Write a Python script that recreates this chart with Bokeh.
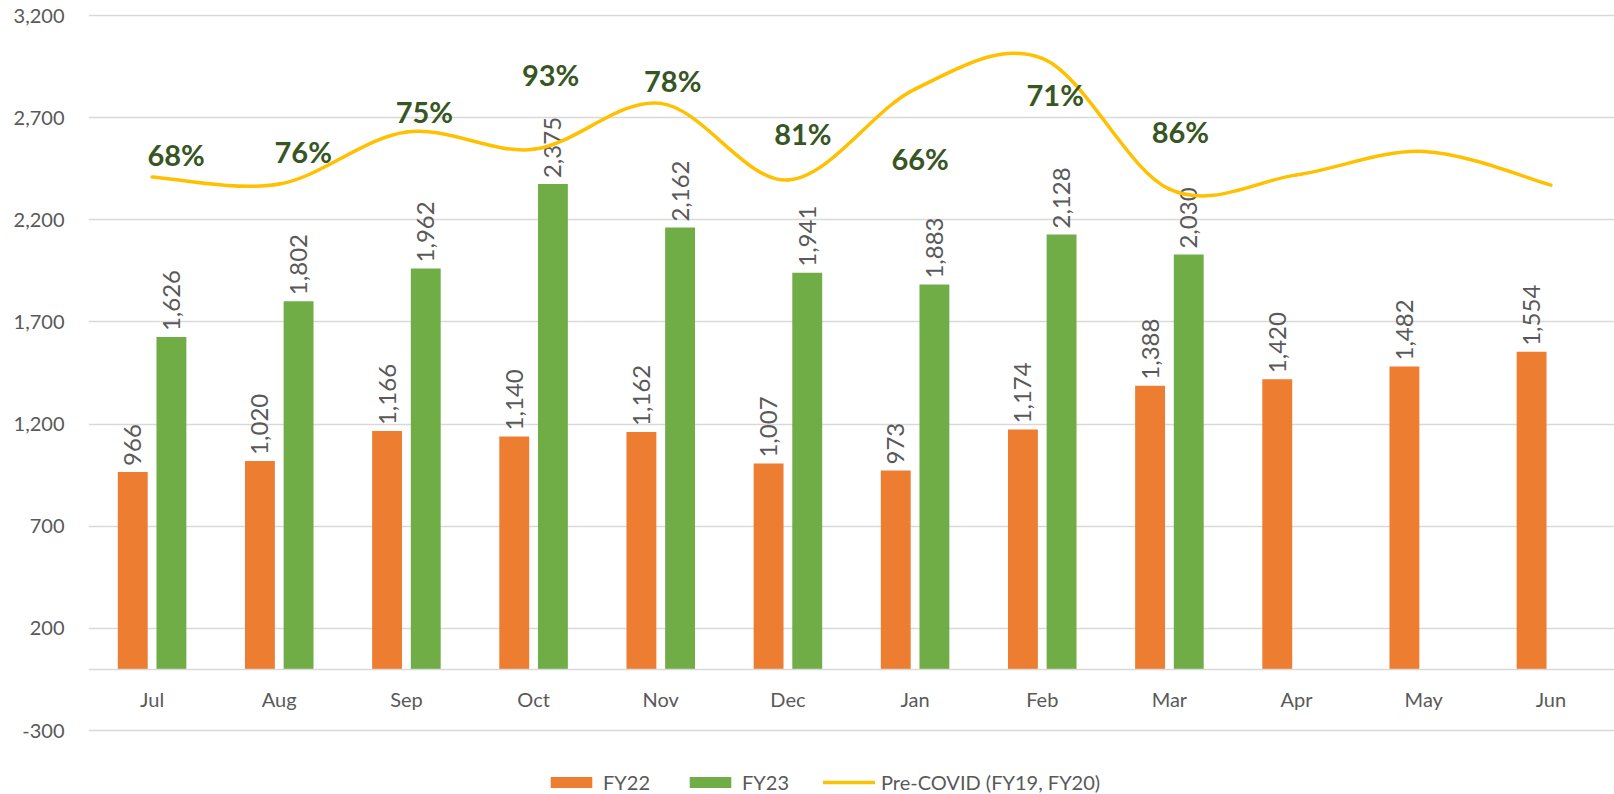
import math
from bokeh.plotting import figure
from bokeh.models import (ColumnDataSource, Range1d, FixedTicker, NumeralTickFormatter,
                          Legend, LegendItem)
from bokeh.core.properties import value
from bokeh.embed import file_html
from bokeh.resources import INLINE

# ---------------- data ----------------
months = ["Jul", "Aug", "Sep", "Oct", "Nov", "Dec", "Jan", "Feb", "Mar", "Apr", "May", "Jun"]
fy22 = [966, 1020, 1166, 1140, 1162, 1007, 973, 1174, 1388, 1420, 1482, 1554]
fy23 = [1626, 1802, 1962, 2375, 2162, 1941, 1883, 2128, 2030]
pre_covid = [2410, 2375, 2630, 2545, 2770, 2395, 2840, 2990, 2350, 2420, 2535, 2370]
pct_labels = ["68%", "76%", "75%", "93%", "78%", "81%", "66%", "71%", "86%"]
y_ticks = [-300, 200, 700, 1200, 1700, 2200, 2700, 3200]

# label placement (screen px relative to the line point; positive dy = up)
pct_dx = [24, 24, 18, 17, 12, 15, 5, 13, 11]
pct_dy = [22, 33, 20, 75, 23, 46, -69, -36, 58]

FONT = "Lato"
TXT = "#595959"
ORANGE = "#ED7D31"
GREEN = "#70AD47"
GOLD = "#FFC000"
GRID = "#D9D9D9"
DKGREEN = "#375623"

# the frame reaches the bottom edge so the legend can sit inside it, below the -300 line
p = figure(width=1614, height=794, output_backend="svg", toolbar_location=None,
           x_range=Range1d(0, len(months)), y_range=Range1d(-613, 3210),
           min_border_left=88, min_border_right=0, min_border_top=13, min_border_bottom=0)
p.outline_line_color = None
p.background_fill_color = "white"
p.border_fill_color = "white"

xc = [i + 0.5 for i in range(len(months))]
off = 0.152
bw = 0.235

s22 = ColumnDataSource(dict(x=[c - off for c in xc], top=fy22, lab=[f"{v:,}" for v in fy22]))
s23 = ColumnDataSource(dict(x=[c + off for c in xc[:len(fy23)]], top=fy23,
                            lab=[f"{v:,}" for v in fy23]))

r22 = p.vbar(x="x", top="top", bottom=0, width=bw, source=s22, fill_color=ORANGE, line_color=None)
r23 = p.vbar(x="x", top="top", bottom=0, width=bw, source=s23, fill_color=GREEN, line_color=None)

# value labels, rotated
for src in (s22, s23):
    p.text(x="x", y="top", text="lab", source=src, angle=math.pi / 2,
           text_align="left", text_baseline="middle", x_offset=0, y_offset=-6,
           text_font=value(FONT), text_font_size="24px", text_color=TXT)

# smoothed line (Catmull-Rom style bezier segments through the data points)
n = len(pre_covid)
P = list(zip(xc, pre_covid))
bx0, by0, bx1, by1, c0x, c0y, c1x, c1y = [], [], [], [], [], [], [], []
for i in range(n - 1):
    pm = P[i - 1] if i > 0 else P[i]
    p0 = P[i]
    p1 = P[i + 1]
    p2 = P[i + 2] if i + 2 < n else P[i + 1]
    bx0.append(p0[0]); by0.append(p0[1]); bx1.append(p1[0]); by1.append(p1[1])
    c0x.append(p0[0] + (p1[0] - pm[0]) / 6); c0y.append(p0[1] + (p1[1] - pm[1]) / 6)
    c1x.append(p1[0] - (p2[0] - p0[0]) / 6); c1y.append(p1[1] - (p2[1] - p0[1]) / 6)
sb = ColumnDataSource(dict(x0=bx0, y0=by0, x1=bx1, y1=by1, cx0=c0x, cy0=c0y, cx1=c1x, cy1=c1y))
rl = p.bezier(x0="x0", y0="y0", x1="x1", y1="y1", cx0="cx0", cy0="cy0", cx1="cx1", cy1="cy1",
              source=sb, line_color=GOLD, line_width=3.5, line_cap="round")

# percentage labels
sp = ColumnDataSource(dict(x=xc[:len(pct_labels)], y=pre_covid[:len(pct_labels)], t=pct_labels,
                           dx=pct_dx, dy=[-d for d in pct_dy]))
p.text(x="x", y="y", text="t", source=sp, x_offset="dx", y_offset="dy",
       text_align="center", text_baseline="middle", text_font=value(FONT),
       text_font_size="29px", text_font_style="bold", text_color=DKGREEN)

# axes
p.yaxis.ticker = FixedTicker(ticks=y_ticks)
p.yaxis.formatter = NumeralTickFormatter(format="0,0")
p.yaxis.axis_line_color = None
p.yaxis.major_tick_line_color = None
p.yaxis.minor_tick_line_color = None
p.yaxis.major_tick_out = 0
p.yaxis.major_label_standoff = 24
p.yaxis.major_label_text_font = FONT
p.yaxis.major_label_text_font_size = "20px"
p.yaxis.major_label_text_color = TXT

p.xaxis.ticker = FixedTicker(ticks=xc)
p.xaxis.major_label_overrides = {c: m for c, m in zip(xc, months)}
p.xaxis.fixed_location = 0
p.xaxis.axis_line_color = GRID
p.xaxis.axis_line_width = 1.5
p.xaxis.major_tick_line_color = None
p.xaxis.minor_tick_line_color = None
p.xaxis.major_tick_out = 0
p.xaxis.major_label_standoff = 18
p.xaxis.major_label_text_font = FONT
p.xaxis.major_label_text_font_size = "20px"
p.xaxis.major_label_text_color = TXT

p.xgrid.grid_line_color = None
p.ygrid.grid_line_color = GRID
p.ygrid.grid_line_width = 1.3

legend = Legend(items=[LegendItem(label="FY22", renderers=[r22]),
                       LegendItem(label="FY23", renderers=[r23]),
                       LegendItem(label="Pre-COVID (FY19, FY20)", renderers=[rl])],
                orientation="horizontal", location=(457, 0),
                glyph_width=52, glyph_height=14, label_standoff=6, spacing=34,
                padding=0, margin=0, border_line_color=None, background_fill_alpha=0,
                label_text_font=FONT, label_text_font_size="20px", label_text_color=TXT,
                label_height=14)
p.add_layout(legend, "center")

open("out.html", "w").write(file_html(p, INLINE))
